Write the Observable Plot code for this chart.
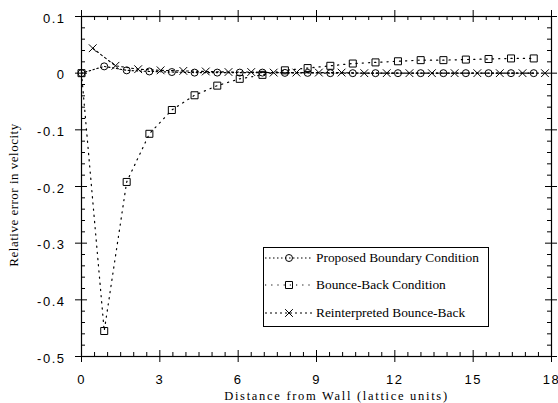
<!DOCTYPE html>
<html><head><meta charset="utf-8">
<script src="https://cdn.jsdelivr.net/npm/d3@7"></script>
<script src="https://cdn.jsdelivr.net/npm/@observablehq/plot@0.6"></script>
<style>
body{margin:0;background:#fff;}
#wrap{position:relative;width:558px;height:403px;overflow:hidden;background:#fff;}
g[aria-label$="tick label"] text{letter-spacing:1.5px;}
#legend{position:absolute;left:263px;top:247px;width:224px;height:78px;border:1px solid #000;border-left-width:1.5px;border-bottom-width:1.5px;background:#fff;font-family:"Liberation Serif","Times New Roman",serif;font-size:13.4px;color:#000;}
.row{position:absolute;left:0;height:20px;display:flex;align-items:center;white-space:nowrap;}
.row svg{margin-left:1px;}
.row span{margin-left:3px;}
</style></head>
<body><div id="wrap"><div id="legend"></div></div>
<script>
// ---- data ----
const seriesNames = ["Proposed Boundary Condition", "Bounce-Back Condition", "Reinterpreted Bounce-Back"];
const gridX = [0, 0.87, 1.73, 2.6, 3.46, 4.33, 5.2, 6.06, 6.93, 7.79, 8.66, 9.53, 10.39, 11.26, 12.12, 12.99, 13.86, 14.72, 15.59, 16.45, 17.32];
const proposedY = [0, 0.012, 0.005, 0.003, 0.002, 0.001, 0.001, 0.001, 0.001, 0.0005, 0.0005, 0, 0, 0, 0, 0, 0, 0, 0, 0, 0];
const bounceY = [0, -0.455, -0.192, -0.107, -0.065, -0.039, -0.022, -0.01, -0.003, 0.005, 0.009, 0.013, 0.017, 0.019, 0.021, 0.023, 0.023, 0.024, 0.025, 0.026, 0.026];
const reintX = [0.43, 1.3, 2.17, 3.03, 3.9, 4.76, 5.63, 6.5, 7.36, 8.23, 9.09, 9.96, 10.83, 11.69, 12.56, 13.42, 14.29, 15.16, 16.02, 16.89, 17.75];
const reintY = [0.044, 0.013, 0.007, 0.005, 0.004, 0.003, 0.002, 0.002, 0.001, 0.001, 0.001, 0.001, 0, 0, 0, 0, 0, 0, 0, 0, 0];
const xTicks = [0, 3, 6, 9, 12, 15, 18];
const yTicks = [0.1, 0, -0.1, -0.2, -0.3, -0.4, -0.5];
const xLabel = "Distance from Wall (lattice units)";
const yLabel = "Relative error in velocity";

const xMinor = d3.range(0, 18.01, 0.5).filter(v => Math.abs(v % 3) > 1e-6);
const yMinor = d3.range(-50, 11, 2).map(v => v / 100).filter(v => Math.abs(Math.round(v * 100) % 10) !== 0);

const proposed = gridX.map((x, i) => ({x, y: proposedY[i]}));
const bounce = gridX.map((x, i) => ({x, y: bounceY[i]}));
const reint = reintX.map((x, i) => ({x, y: reintY[i]}));

const dash = ["1.5,2.5", "1.2,5", "2,3"];
const symbols = ["circle", "square", "times"];
const radii = [3.5, 3.95, 3.6];
const serif = '"Liberation Serif","Times New Roman",serif';

const plot = Plot.plot({
  width: 558, height: 403,
  marginLeft: 81, marginRight: 7, marginTop: 16, marginBottom: 47,
  style: {fontFamily: '"Liberation Sans", Arial, sans-serif', fontSize: "13px", color: "black", background: "white", overflow: "visible"},
  x: {domain: [0, 18]},
  y: {domain: [-0.5, 0.1]},
  marks: [
    Plot.frame({stroke: "black", strokeWidth: 1.2}),
    // major ticks crossing the axes
    Plot.ruleX(xTicks, {x: d => d, y1: -0.5, y2: -0.5, insetTop: -6, insetBottom: -6, stroke: "black"}),
    Plot.ruleX(xTicks, {x: d => d, y1: 0.1, y2: 0.1, insetTop: -6, insetBottom: -6, stroke: "black"}),
    Plot.ruleY(yTicks, {y: d => d, x1: 0, x2: 0, insetLeft: -6, insetRight: -6, stroke: "black"}),
    Plot.ruleY(yTicks, {y: d => d, x1: 18, x2: 18, insetLeft: -6, insetRight: -6, stroke: "black"}),
    // minor ticks inward
    Plot.ruleX(xMinor, {x: d => d, y1: -0.5, y2: -0.5, insetTop: -4, insetBottom: 0, stroke: "black"}),
    Plot.ruleX(xMinor, {x: d => d, y1: 0.1, y2: 0.1, insetTop: 0, insetBottom: -4, stroke: "black"}),
    Plot.ruleY(yMinor, {y: d => d, x1: 0, x2: 0, insetLeft: 0, insetRight: -4, stroke: "black"}),
    Plot.ruleY(yMinor, {y: d => d, x1: 18, x2: 18, insetLeft: -4, insetRight: 0, stroke: "black"}),
    Plot.axisX({ticks: xTicks, anchor: "bottom", tickSize: 0, tickPadding: 18, label: null, tickFormat: d => String(d)}),
    Plot.axisY({ticks: yTicks, anchor: "left", tickSize: 0, tickPadding: 16, dy: 2, label: null, tickFormat: d => String(d)}),
    // series
    Plot.line(proposed, {x: "x", y: "y", stroke: "black", strokeWidth: 1.1, strokeDasharray: dash[0]}),
    Plot.line(bounce, {x: "x", y: "y", stroke: "black", strokeWidth: 1.2, strokeDasharray: dash[1]}),
    Plot.line(reint, {x: "x", y: "y", stroke: "black", strokeWidth: 1.1, strokeDasharray: dash[2]}),
    Plot.dot(proposed, {x: "x", y: "y", symbol: symbols[0], r: radii[0], stroke: "black", strokeWidth: 1, fill: "none"}),
    Plot.dot(bounce, {x: "x", y: "y", symbol: symbols[1], r: radii[1], stroke: "black", strokeWidth: 1, fill: "none"}),
    Plot.dot(reint, {x: "x", y: "y", symbol: symbols[2], r: radii[2], stroke: "black", strokeWidth: 1, fill: "none"}),
    // axis titles
    Plot.text([xLabel], {frameAnchor: "bottom", textAnchor: "middle", lineAnchor: "middle", dx: 20, dy: 39.5, fontFamily: serif, fontSize: 12.5, fill: "black"}),
    Plot.text([yLabel], {frameAnchor: "left", textAnchor: "middle", lineAnchor: "middle", dx: -68, dy: 8.5, rotate: -90, fontFamily: serif, fontSize: 13, fill: "black"})
  ]
});
plot.style.position = "absolute";
plot.style.left = "0px";
plot.style.top = "0px";
plot.querySelectorAll("text").forEach(t => {
  if (t.textContent === xLabel) t.style.letterSpacing = "1.7px";
  if (t.textContent === yLabel) t.style.letterSpacing = "0.5px";
});
const wrap = document.getElementById("wrap");
wrap.insertBefore(plot, wrap.firstChild);

// legend
const legend = document.getElementById("legend");
const rowTops = [0, 27, 55];
seriesNames.forEach((name, i) => {
  const row = document.createElement("div");
  row.className = "row";
  row.style.top = rowTops[i] + "px";
  const sym = d3.symbol(d3[{circle: "symbolCircle", square: "symbolSquare", times: "symbolTimes"}[symbols[i]]], Math.PI * radii[i] * radii[i])();
  row.innerHTML = `<svg width="48" height="20"><line x1="0" x2="48" y1="10" y2="10" stroke="black" stroke-width="1.1" stroke-dasharray="${dash[i]}"/><path d="${sym}" transform="translate(24,10)" fill="none" stroke="black"/></svg><span>${name}</span>`;
  legend.appendChild(row);
});
</script></body></html>
